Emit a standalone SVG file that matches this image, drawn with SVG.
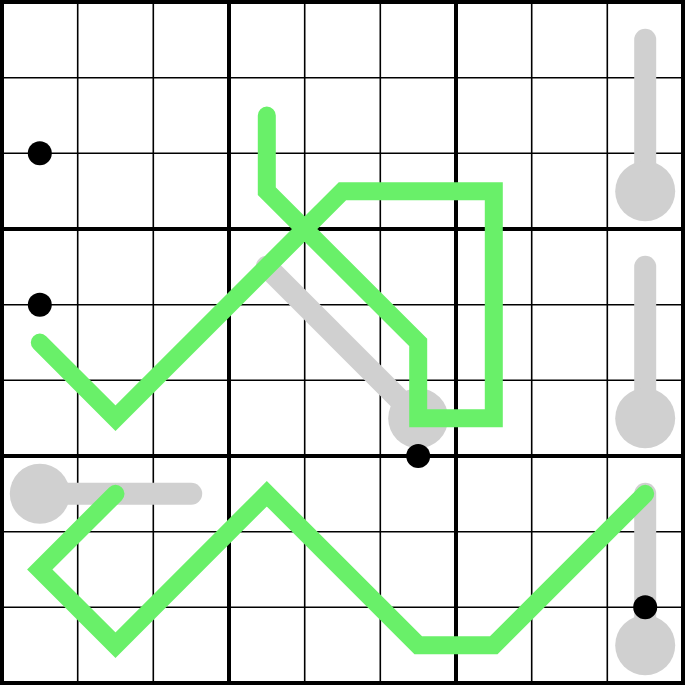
<svg xmlns="http://www.w3.org/2000/svg" width="685" height="685" viewBox="0 0 685 685">
<style>
.thin{stroke:#000;stroke-width:1.6;fill:none}
.thick{stroke:#000;stroke-width:4;fill:none}
.thermo{stroke:#d0d0d0;stroke-width:22;stroke-linecap:round;fill:none}
.bulb{fill:#d0d0d0}
.green{stroke:#69f069;stroke-width:18;stroke-linecap:round;stroke-linejoin:miter;fill:none}
.dot{fill:#000}
</style>
<rect width="685" height="685" fill="#fff"/>
<g id="grid">
<path class="thin" d="M77.7 2V683M153.3 2V683M304.7 2V683M380.3 2V683M531.7 2V683M607.3 2V683M2 77.7H683M2 153.3H683M2 304.7H683M2 380.3H683M2 531.7H683M2 607.3H683"/>
<path class="thick" d="M229 2V683M456 2V683M2 229H683M2 456H683"/>
<rect class="thick" x="2" y="2" width="681" height="681"/>
</g>
<g id="thermo1"><path class="thermo" d="M645.2 191.2V39.8"/><circle class="bulb" cx="645.2" cy="191.2" r="30"/></g>
<g id="thermo2"><path class="thermo" d="M645.2 418.2V266.8"/><circle class="bulb" cx="645.2" cy="418.2" r="30"/></g>
<g id="thermo3"><path class="thermo" d="M645.2 645.2V493.8"/><circle class="bulb" cx="645.2" cy="645.2" r="30"/></g>
<g id="thermo4"><path class="thermo" d="M39.8 493.8H191.2"/><circle class="bulb" cx="39.8" cy="493.8" r="30"/></g>
<g id="thermo5"><path class="thermo" d="M418.2 418.2L266.8 266.8"/><circle class="bulb" cx="418.2" cy="418.2" r="30"/></g>
<g id="connectors">
<path class="green" d="M266.8 115.5V191.2L418.2 342.5V418.2H493.8V191.2H342.5L115.5 418.2L39.8 342.5"/>
<path class="green" d="M115.5 493.8L39.8 569.5L115.5 645.2L266.8 493.8L418.2 645.2H493.8L645.2 493.8"/>
</g>
<g id="dots">
<circle class="dot" cx="39.8" cy="153.3" r="12"/>
<circle class="dot" cx="39.8" cy="304.7" r="12"/>
<circle class="dot" cx="418.2" cy="456" r="12"/>
<circle class="dot" cx="645.2" cy="607.3" r="12"/>
</g>
</svg>
